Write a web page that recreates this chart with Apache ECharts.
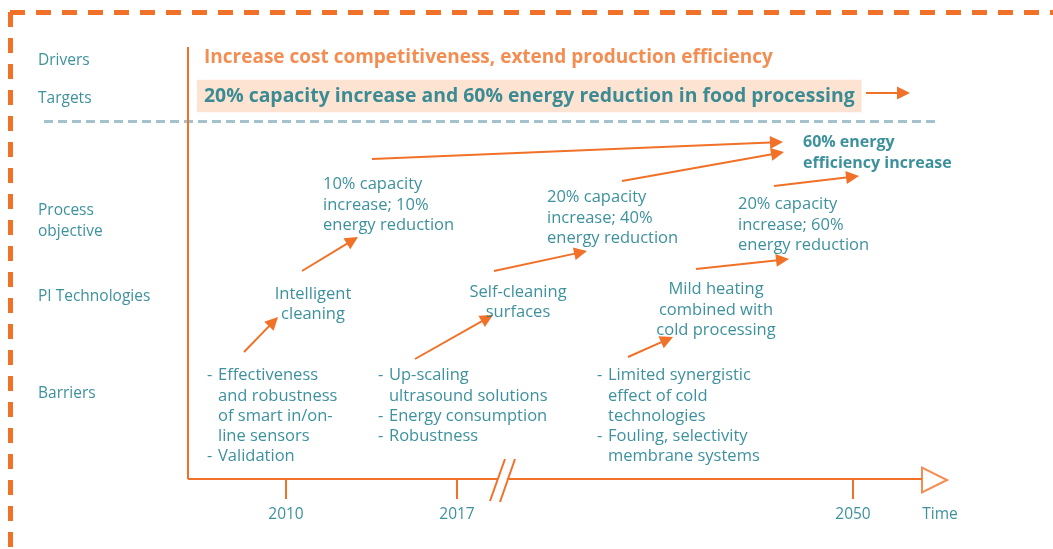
<!DOCTYPE html>
<html>
<head>
<meta charset="utf-8">
<script src="https://cdn.jsdelivr.net/npm/echarts@6/dist/echarts.min.js"></script>
<style>
html,body{margin:0;padding:0;background:#fff}
#chart{width:1053px;height:549px}
</style>
</head>
<body>
<div id="chart"></div>
<script>
// row titles on the left
var rowLabels = ['Drivers', 'Targets', 'Process\nobjective', 'PI Technologies', 'Barriers'];
var driverText = 'Increase cost competitiveness, extend production efficiency';
var targetText = '20% capacity increase and 60% energy reduction in food processing';
var objectives = [
    '10% capacity\nincrease; 10%\nenergy reduction',
    '20% capacity\nincrease; 40%\nenergy reduction',
    '20% capacity\nincrease; 60%\nenergy reduction'
];
var finalGoal = '60% energy\nefficiency increase';
var technologies = [
    'Intelligent\ncleaning',
    'Self-cleaning\nsurfaces',
    'Mild heating\ncombined with\ncold processing'
];
var barriers = [
    ['Effectiveness\nand robustness\nof smart in/on-\nline sensors', 'Validation'],
    ['Up-scaling\nultrasound solutions', 'Energy consumption', 'Robustness'],
    ['Limited synergistic\neffect of cold\ntechnologies', 'Fouling, selectivity\nmembrane systems']
];
var years = ['2010', '2017', '2050'];
var axisName = 'Time';

// layout (pixel-like coordinates on hidden axes)
var rowY = [61, 99, 221, 297, 394];
var objPos = [[323, 205], [547, 218], [738, 225]];
var finalPos = [803, 153];
var techPos = [[313, 304], [518, 302], [716, 310]];
var barrierX = [207, 378, 597];
var barrierTop = 375.5;
var lineH = 20.3;
var yearX = [286, 457, 853];
var yearLabelY = 515;
var axisY = 479;
var arrows = [
    [[244, 352], [278, 317]],
    [[302, 271], [358, 237]],
    [[415, 359], [493, 315]],
    [[494, 271], [587, 251]],
    [[628, 357], [673, 337]],
    [[696, 269], [789, 259]],
    [[774, 186], [859, 176]],
    [[622, 181], [784, 152]],
    [[372, 159], [783, 142]],
    [[866, 93], [910, 93]]
];

var teal = '#0b7585';
var orange = '#f07127';
var font = 'Open Sans';
var headSize = 13;

function txt(x, y, text, extra) {
    var label = {
        show: true, formatter: text, position: 'right', distance: 0,
        color: teal, fontFamily: font, fontSize: 16.5, fontWeight: 500, lineHeight: lineH
    };
    for (var k in extra) label[k] = extra[k];
    return {value: [x, y], label: label};
}

var labels = [];
rowLabels.forEach(function (t, i) { labels.push(txt(38, rowY[i], t, {fontSize: 15.5})); });
labels.push(txt(204, 58, driverText, {color: orange, fontWeight: 'bold', fontSize: 19}));
labels.push(txt(197, 96, targetText, {
    fontWeight: 'bold', fontSize: 19.4, backgroundColor: '#fcdcc5', padding: [6, 7, 6, 7]
}));
objectives.forEach(function (t, i) { labels.push(txt(objPos[i][0], objPos[i][1], t)); });
labels.push(txt(finalPos[0], finalPos[1], finalGoal, {fontWeight: 'bold', fontSize: 16}));
technologies.forEach(function (t, i) {
    labels.push(txt(techPos[i][0], techPos[i][1], t, {position: 'inside', align: 'center'}));
});
barriers.forEach(function (items, g) {
    var line = 0;
    items.forEach(function (t) {
        var n = t.split('\n').length;
        labels.push(txt(barrierX[g], barrierTop + line * lineH, '-'));
        labels.push(txt(barrierX[g] + 11, barrierTop + (line + (n - 1) / 2) * lineH, t));
        line += n;
    });
});
years.forEach(function (t, i) {
    labels.push(txt(yearX[i], yearLabelY, t, {position: 'inside', align: 'center', fontSize: 15.5}));
});
labels.push(txt(940, yearLabelY, axisName, {position: 'inside', align: 'center', fontSize: 15.5}));

function arrowData(a) {
    var dx = a[1][0] - a[0][0], dy = a[1][1] - a[0][1];
    var L = Math.sqrt(dx * dx + dy * dy), s = headSize / 2;
    return {coords: [a[0], [a[1][0] - dx / L * s, a[1][1] - dy / L * s]]};
}

var axisLines = [
    {coords: [[188, 47], [188, axisY]]},
    {coords: [[188, axisY], [497, axisY]]},
    {coords: [[507, axisY], [922, axisY]]},
    {coords: [[490, 501], [505, 459]]},
    {coords: [[500, 502], [515, 459]]}
];
yearX.forEach(function (x) { axisLines.push({coords: [[x, axisY], [x, 499]]}); });

var myChart = echarts.init(document.getElementById('chart'));
var option = {
    animation: false,
    grid: {left: 0, right: 0, top: 0, bottom: 0},
    xAxis: {type: 'value', min: 0, max: 1053, show: false},
    yAxis: {type: 'value', min: 0, max: 549, inverse: true, show: false},
    series: [
        {   // outer dashed frame
            type: 'lines', coordinateSystem: 'cartesian2d', silent: true,
            lineStyle: {color: orange, width: 5, type: [15, 11], opacity: 1},
            data: [{coords: [[10, 12], [1053, 12]]}, {coords: [[10, 12], [10, 549]]}]
        },
        {   // separator
            type: 'lines', coordinateSystem: 'cartesian2d', silent: true,
            lineStyle: {color: '#a3c2cc', width: 3, type: [9, 5], opacity: 1},
            data: [{coords: [[44, 121], [935, 121]]}]
        },
        {   // axes
            type: 'lines', coordinateSystem: 'cartesian2d', silent: true,
            lineStyle: {color: orange, width: 2, opacity: 1},
            data: axisLines
        },
        {   // arrows
            type: 'lines', coordinateSystem: 'cartesian2d', silent: true,
            symbol: ['none', 'triangle'], symbolSize: headSize,
            lineStyle: {color: orange, width: 2, opacity: 1},
            data: arrows.map(arrowData)
        },
        {   // time arrow head
            type: 'scatter', silent: true, symbol: 'triangle', symbolRotate: -90,
            symbolSize: [25, 25],
            itemStyle: {color: '#fff', borderColor: orange, borderWidth: 2},
            data: [[934.5, 480]]
        },
        {
            type: 'scatter', silent: true, symbolSize: 0,
            data: labels
        }
    ]
};
myChart.setOption(option);
</script>
</body>
</html>
